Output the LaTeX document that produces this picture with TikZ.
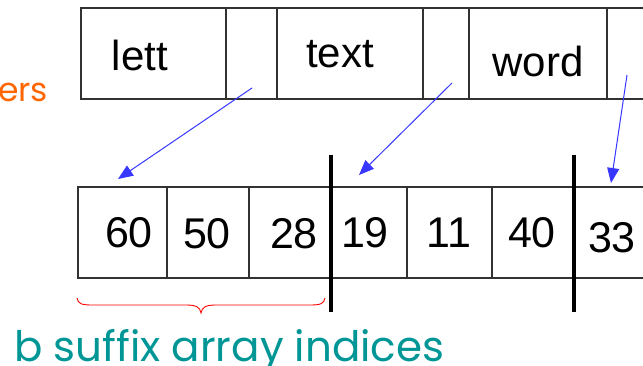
\documentclass[tikz,border=0pt]{standalone}
\usepackage{fontspec}
\setmainfont{Liberation Sans}
\newfontfamily\notefont{Poppins}
\usetikzlibrary{arrows.meta}
\definecolor{ptrblue}{RGB}{55,55,255}
\definecolor{noteteal}{RGB}{0,150,150}
\definecolor{noteorange}{RGB}{255,102,0}
\definecolor{cellline}{RGB}{50,50,50}
\tikzset{
  cell/.style={draw=cellline, line width=1.3pt, rectangle, inner sep=0pt, outer sep=0pt},
  word/.style={font=\fontsize{42}{44}\selectfont, inner sep=0pt},
  num/.style={font=\fontsize{43}{45}\selectfont, inner sep=0pt},
  ptr/.style={ptrblue, line width=1pt, -{Triangle[length=15pt,width=12pt]}},
  sep/.style={line width=4.5pt, black},
  bucketbrace/.style={red, line width=0.9pt},
  note/.style={font=\notefont, inner sep=0pt}
}
\begin{document}
\begin{tikzpicture}[x=1pt,y=-1pt]
\useasboundingbox (0,0) rectangle (643,366);
\clip (0,0) rectangle (643,366);
\fill[white] (0,0) rectangle (643,366);

% text array (top row)
\node[cell, minimum width=145pt, minimum height=91pt] (t1) at (153.5,53.5) {};
\node[cell, minimum width=51pt,  minimum height=91pt] (t2) at (251.5,53.5) {};
\node[cell, minimum width=146pt, minimum height=91pt] (t3) at (350,53.5) {};
\node[cell, minimum width=46pt,  minimum height=91pt] (t4) at (446,53.5) {};
\node[cell, minimum width=138pt, minimum height=91pt] (t5) at (538,53.5) {};
\node[cell, minimum width=50pt,  minimum height=91pt] (t6) at (632,53.5) {};
\node[word] (wlett) at (140,55) {lett};
\node[word] (wtext) at (340,54) {text};
\node[word] (wword) at (538,61) {word};

% suffix array (bottom row)
\node[cell, minimum width=89pt, minimum height=91pt] (s1) at (122.5,232.5) {};
\node[cell, minimum width=82pt, minimum height=91pt] (s2) at (208,232.5) {};
\node[cell, minimum width=82pt, minimum height=91pt] (s3) at (290,232.5) {};
\node[cell, minimum width=76pt, minimum height=91pt] (s4) at (369,232.5) {};
\node[cell, minimum width=85pt, minimum height=91pt] (s5) at (449.5,232.5) {};
\node[cell, minimum width=82pt, minimum height=91pt] (s6) at (533,232.5) {};
\node[cell, minimum width=80pt, minimum height=91pt] (s7) at (614,232.5) {};
\node[num] (n60) at (129,233) {60};
\node[num] (n50) at (207,234) {50};
\node[num] (n28) at (294,234) {28};
\node[num] (n19) at (365,233) {19};
\node[num] (n11) at (449,233) {11};
\node[num] (n40) at (532,233) {40};
\node[num] (n33) at (612,238) {33};

% bucket separators
\coordinate (b1top) at (331,155);
\coordinate (b1bot) at (331,312);
\coordinate (b2top) at (574,155);
\coordinate (b2bot) at (574,312);
\draw[sep] (b1top) -- (b1bot);
\draw[sep] (b2top) -- (b2bot);

% pointers from the text into the suffix array
\coordinate (p1) at (252,88);
\coordinate (q1) at (118,179);
\coordinate (p2) at (452,83);
\coordinate (q2) at (359,175);
\coordinate (p3) at (627,75);
\coordinate (q3) at (611,183);
\draw[ptr] (p1) -- (q1);
\draw[ptr] (p2) -- (q2);
\draw[ptr] (p3) -- (q3);

% brace under the first bucket, tip pointing down
\coordinate (br1) at (77,298);
\coordinate (brtip) at (201,313);
\coordinate (br2) at (325,298);
\draw[bucketbrace] (br1) .. controls (78,304) and (82,305) .. (92,305)
  -- (186,305) .. controls (196,305) and (200,307) .. (brtip)
  .. controls (202,307) and (206,305) .. (216,305)
  -- (310,305) .. controls (320,305) and (324,304) .. (br2);

% annotations
\node[note, text=noteorange, font=\notefont\fontsize{33}{35}\selectfont, anchor=base west] (ers) at (-2,102) {ers};
\node[note, text=noteteal, font=\notefont\fontsize{42}{44}\selectfont, anchor=base west] (lbl) at (14,361) {b suffix array indices};
\end{tikzpicture}
\end{document}
